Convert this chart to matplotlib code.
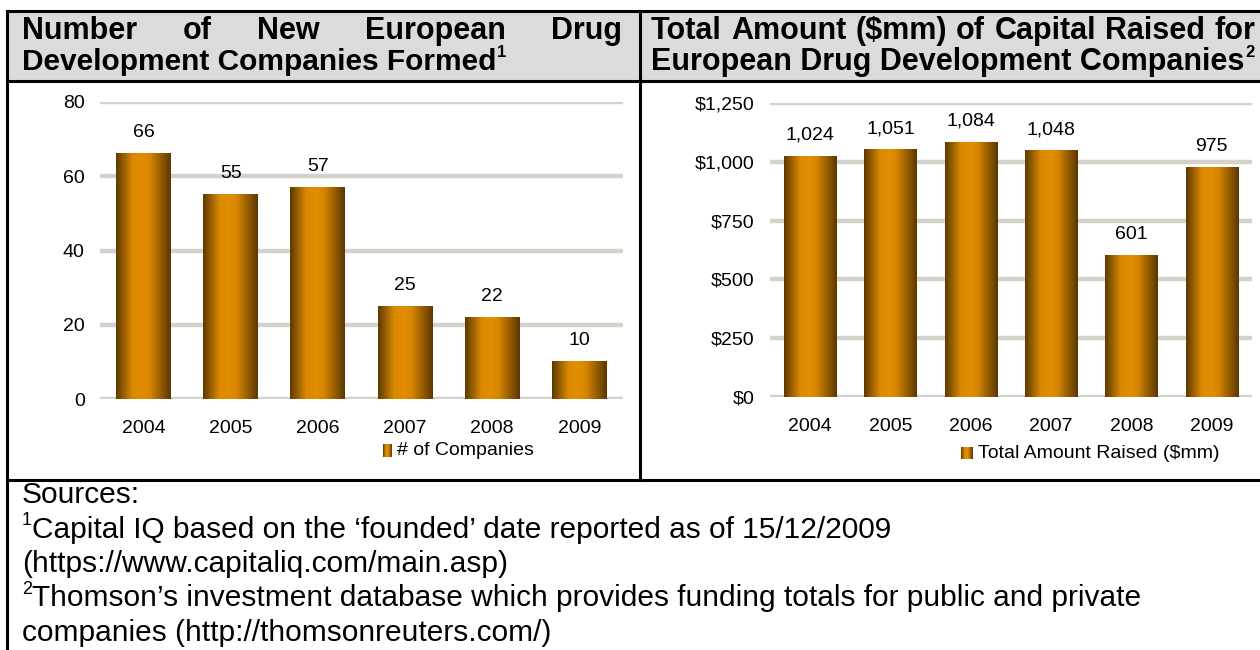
import numpy as np
import matplotlib.pyplot as plt
from matplotlib.colors import LinearSegmentedColormap
from matplotlib.lines import Line2D
from matplotlib.patches import Rectangle
from matplotlib.ticker import FuncFormatter

# data
years = ["2004", "2005", "2006", "2007", "2008", "2009"]
companies = [66, 55, 57, 25, 22, 10]
capital = [1024, 1051, 1084, 1048, 601, 975]

left_title = ["Number", "of", "New", "European", "Drug"]
left_title2 = "Development Companies Formed"
right_title = ["Total", "Amount", "($mm)", "of", "Capital", "Raised", "for"]
right_title2 = "European Drug Development Companies"
sources = [
    ("", "Sources:"),
    ("1", "Capital IQ based on the \u2018founded\u2019 date reported as of 15/12/2009"),
    ("", "(https://www.capitaliq.com/main.asp)"),
    ("2", "Thomson\u2019s investment database which provides funding totals for public and private"),
    ("", "companies (http://thomsonreuters.com/)"),
]

W, H = 1260, 650
plt.rcParams['font.family'] = ['Liberation Sans', 'DejaVu Sans']

bar_cmap = LinearSegmentedColormap.from_list(
    'bar', [(0, '#5c3900'), (0.3, '#db8900'), (0.48, '#e38e00'),
            (0.62, '#d68500'), (1, '#5a3700')])
grad = np.linspace(0, 1, 256).reshape(1, -1)
grid_col = '#d5d2ca'

fig = plt.figure(figsize=(W / 100, H / 100), dpi=100)
renderer = fig.canvas.get_renderer()


def fx(x):
    return x / W


def fy(y):
    return 1 - y / H


# table frame
fig.patches.append(Rectangle((fx(7), fy(81)), fx(1260) - fx(7), fy(11) - fy(81),
                             transform=fig.transFigure, facecolor='#dbdbdb',
                             edgecolor='none', zorder=0))
for (x0, y0, x1, y1) in [(7, 11, 1260, 11), (7, 81, 1260, 81), (7, 480, 1260, 480),
                         (7, 11, 7, 650), (640, 11, 640, 480)]:
    fig.add_artist(Line2D([fx(x0), fx(x1)], [fy(y0), fy(y1)], color='black',
                          lw=2.2, transform=fig.transFigure))


def justify(words, x0, x1, y, **kw):
    texts = [fig.text(0, fy(y), w, va='baseline', **kw) for w in words]
    widths = [t.get_window_extent(renderer).width for t in texts]
    gap = (x1 - x0 - sum(widths)) / (len(words) - 1)
    x = x0
    for t, w in zip(texts, widths):
        t.set_x(fx(x))
        x += w + gap


def with_sup(x, y, s, sup, size, supsize, sup_first=False, **kw):
    rise = size * 1.39 * 0.42
    if sup_first and sup:
        t = fig.text(fx(x), fy(y - rise), sup, fontsize=supsize, va='baseline', **kw)
        x = t.get_window_extent(renderer).x1
    t = fig.text(fx(x), fy(y), s, fontsize=size, va='baseline', **kw)
    if not sup_first and sup:
        x1 = t.get_window_extent(renderer).x1
        fig.text(fx(x1 + 1), fy(y - rise), sup, fontsize=supsize, va='baseline', **kw)


# headers
hkw = dict(fontsize=22, fontweight='bold')
justify(left_title, 22, 622, 39, **hkw)
with_sup(22, 70, left_title2, "1", 21.5, 12, fontweight='bold')
justify(right_title, 651, 1255, 39, **hkw)
with_sup(651, 70, right_title2, "2", 22, 12, fontweight='bold')

# sources
for i, (sup, line) in enumerate(sources):
    with_sup(22, 503 + 34.5 * i, line, sup, 21.5, 13, sup_first=True)


def bar_panel(rect, values, width, ymax, step, fmt, legend_text, leg_box, leg_x):
    ax = fig.add_axes(rect)
    for i, v in enumerate(values):
        ax.imshow(grad, cmap=bar_cmap, aspect='auto', interpolation='bilinear',
                  extent=[i - width / 2, i + width / 2, 0, v], zorder=3)
        ax.annotate(f"{v:,}", (i, v), xytext=(0, 9), textcoords='offset points',
                    ha='center', va='bottom', fontsize=14)
    ax.set_xlim(-0.5, len(values) - 0.5)
    ax.set_ylim(0, ymax)
    ax.set_yticks(np.arange(0, ymax + 1, step))
    ax.yaxis.set_major_formatter(FuncFormatter(fmt))
    ax.set_xticks(range(len(years)))
    ax.set_xticklabels(years)
    ax.tick_params(axis='both', length=0, labelsize=14)
    ax.tick_params(axis='y', pad=11)
    ax.tick_params(axis='x', pad=15)
    ax.grid(axis='y', color=grid_col, lw=3.2, zorder=0)
    ax.set_axisbelow(True)
    for s in ax.spines.values():
        s.set_visible(False)
    # legend
    bx0, by0, bx1, by1 = leg_box
    lax = fig.add_axes([fx(bx0), fy(by1), fx(bx1 - bx0), (by1 - by0) / H])
    lax.imshow(grad, cmap=bar_cmap, aspect='auto', interpolation='bilinear')
    lax.axis('off')
    fig.text(fx(leg_x), fy((by0 + by1) / 2), legend_text, fontsize=14, va='center')
    return ax


bar_panel([fx(100), fy(399), (623 - 100) / W, (399 - 102) / H], companies, 0.63,
          80, 20, lambda v, p: f"{v:.0f}", "# of Companies", (383, 444, 392, 457), 397)
bar_panel([fx(770), fy(397), (1252 - 770) / W, (397 - 103) / H], capital, 0.65,
          1250, 250, lambda v, p: f"${v:,.0f}", "Total Amount Raised ($mm)",
          (961, 447, 973, 459), 978)

fig.savefig("out.png", dpi=100)
